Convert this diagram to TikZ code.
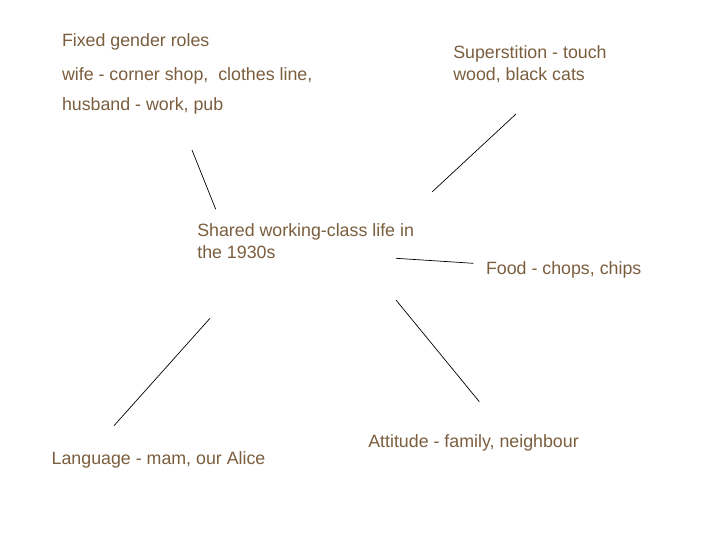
\documentclass[tikz,border=0pt]{standalone}
\usepackage{fontspec}
\setmainfont{Liberation Sans}
\definecolor{txtbrown}{RGB}{123,94,62}
\begin{document}
\begin{tikzpicture}[x=1pt,y=-1pt,
  lbl/.style={anchor=base west,inner sep=0pt,outer sep=0pt,text=txtbrown,align=left,
    font=\fontsize{17.8}{21.6}\selectfont},
  conn/.style={draw=black,line width=0.7pt}]
\useasboundingbox[fill=white] (0,0) rectangle (720,540);
% texts (multi-line nodes are placed by the baseline of their last line)
\node[lbl] (fixed)   at (62,47)    {Fixed gender roles};
\node[lbl] (wife)    at (62,80.5)  {wife - corner shop,\ \ clothes line,};
\node[lbl] (husband) at (62,111)   {husband - work, pub};
\node[lbl] (super)   at (453.3,80.5) {Superstition - touch\\wood, black cats};
\node[lbl] (shared)  at (197.3,258.5) {Shared working-class life in\\the 1930s};
\node[lbl] (food)    at (486,274) {Food - chops, chips};
\node[lbl] (attitude) at (368.3,447) {Attitude - family, neighbour};
\node[lbl] (language) at (51.7,464) {Language - mam, our Alice};
% connector end points
\coordinate (g1) at (192,150);   \coordinate (g2) at (215.7,209.3);
\coordinate (s1) at (516,114);   \coordinate (s2) at (432.3,191.7);
\coordinate (f1) at (396,258.3); \coordinate (f2) at (473.3,263.3);
\coordinate (a1) at (396,300);   \coordinate (a2) at (479.3,401.7);
\coordinate (l1) at (210,318.3); \coordinate (l2) at (114,425.7);
\draw[conn] (g1) -- (g2);
\draw[conn] (s1) -- (s2);
\draw[conn] (f1) -- (f2);
\draw[conn] (a1) -- (a2);
\draw[conn] (l1) -- (l2);
\end{tikzpicture}
\end{document}
